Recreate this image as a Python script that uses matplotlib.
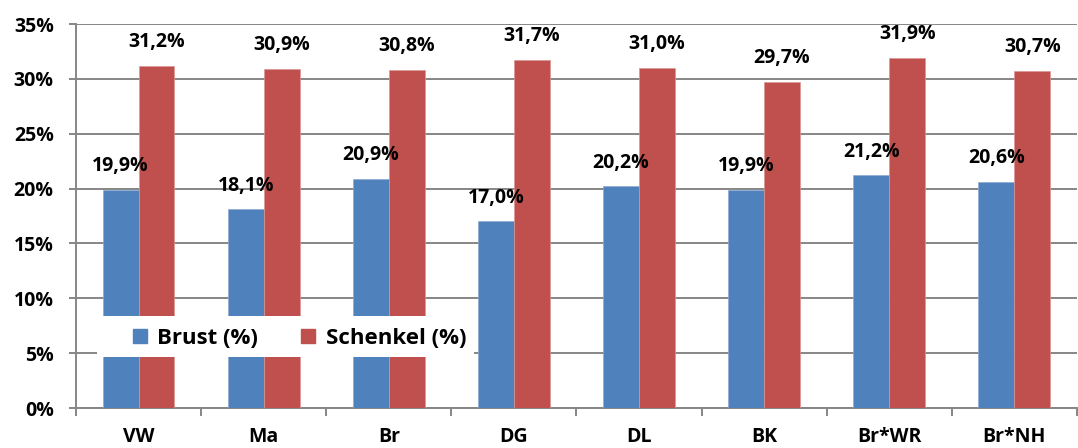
import matplotlib
matplotlib.use("Agg")
import matplotlib.pyplot as plt
from matplotlib import font_manager as fm
from matplotlib.ticker import FixedLocator, FuncFormatter
from matplotlib.lines import Line2D
from matplotlib.patches import Rectangle
import numpy as np

categories = ["VW", "Ma", "Br", "DG", "DL", "BK", "Br*WR", "Br*NH"]
brust = [19.9, 18.1, 20.9, 17.0, 20.2, 19.9, 21.2, 20.6]
schenkel = [31.2, 30.9, 30.8, 31.7, 31.0, 29.7, 31.9, 30.7]
series_names = ["Brust (%)", "Schenkel (%)"]
yticks = [0, 5, 10, 15, 20, 25, 30, 35]

BLUE = "#4F81BD"
RED = "#C0504D"
GRID = "#868686"


def pick_font():
    for f in ["Open Sans", "Noto Sans", "Liberation Sans", "Lato"]:
        try:
            p = fm.findfont(fm.FontProperties(family=f, weight="bold"),
                            fallback_to_default=False)
            if "bold" in p.lower():
                return f
        except Exception:
            pass
    return "DejaVu Sans"


FONT = pick_font()
FS = 14

plt.rcParams["font.family"] = [FONT, "DejaVu Sans"]
plt.rcParams["font.weight"] = "bold"

fig = plt.figure(figsize=(10.78, 4.48), dpi=100)
ax = fig.add_axes([76/1078, 1-408/448, 1-76/1078 - 0.001, (408-24)/448])

x = np.arange(len(categories))
w = 0.287
b1 = ax.bar(x - w/2, brust, w, color=BLUE, edgecolor="#8EA9D2", linewidth=0.5, zorder=3)
b2 = ax.bar(x + w/2, schenkel, w, color=RED, edgecolor="#D99694", linewidth=0.5, zorder=3)


def fmt(v):
    return f"{v:.1f}".replace(".", ",") + "%"


for bars, vals in ((b1, brust), (b2, schenkel)):
    for r, v in zip(bars, vals):
        ax.annotate(fmt(v), (r.get_x() + r.get_width()/2, v), xytext=(0, 13.5),
                    textcoords="offset points", ha="center", va="baseline",
                    fontsize=FS, fontweight="bold", zorder=5)

ax.set_xlim(-0.5, len(categories) - 0.5)
ax.set_ylim(0, 35)
ax.yaxis.set_major_locator(FixedLocator(yticks))
ax.yaxis.set_major_formatter(FuncFormatter(lambda v, p: f"{int(v)}%"))
ax.set_xticks(x)
ax.set_xticklabels(categories)
ax.xaxis.set_minor_locator(FixedLocator(np.arange(len(categories) + 1) - 0.5))

ax.grid(axis="y", color=GRID, linewidth=1.4, zorder=0)
ax.set_axisbelow(True)
for s in ("top", "right"):
    ax.spines[s].set_visible(False)
for s in ("left", "bottom"):
    ax.spines[s].set_color(GRID)
    ax.spines[s].set_linewidth(1.4)

ax.tick_params(axis="y", length=5, width=1.4, color=GRID, pad=11, labelsize=FS)
ax.tick_params(axis="x", which="major", length=0, pad=14, labelsize=FS)
ax.tick_params(axis="x", which="minor", length=6, width=1.4, color=GRID)
for lab in ax.get_xticklabels() + ax.get_yticklabels():
    lab.set_fontweight("bold")

# white legend area
fig.patches.append(Rectangle((97/1078, 1-357/448), 376/1078, 41/448,
                             transform=fig.transFigure, facecolor="white",
                             edgecolor="none", zorder=9))

handles = [Line2D([], [], marker="s", linestyle="none", markersize=10,
                  markerfacecolor=c, markeredgecolor=c) for c in (BLUE, RED)]
leg = fig.legend(handles, series_names, loc="lower left",
                 bbox_to_anchor=(124/1078, 1-357/448), ncol=2, frameon=True,
                 prop={"family": FONT, "weight": "bold", "size": 16},
                 handlelength=0.7, handletextpad=0.45, columnspacing=1.9,
                 borderpad=0.35, borderaxespad=0)
leg.get_frame().set_facecolor("white")
leg.get_frame().set_edgecolor("none")
leg.get_frame().set_alpha(1)
leg.get_frame().set_boxstyle("square", pad=0)
leg.set_zorder(10)

fig.savefig("out.png", dpi=100)
